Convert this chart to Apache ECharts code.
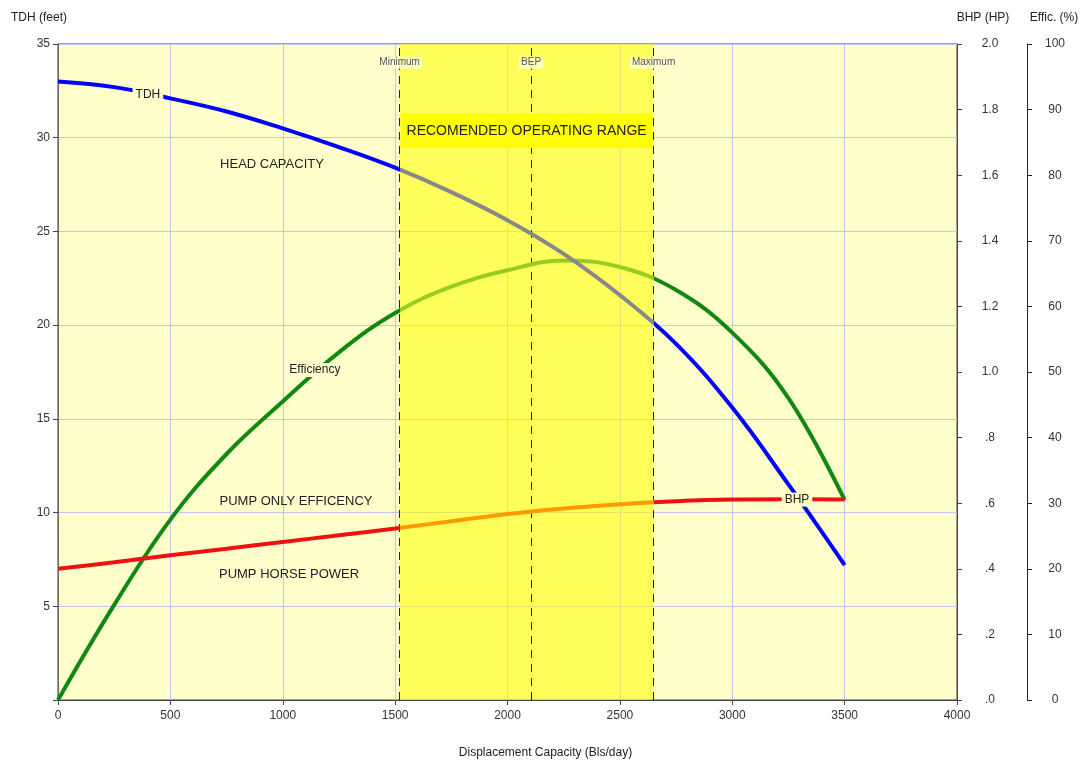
<!DOCTYPE html>
<html>
<head>
<meta charset="utf-8">
<script src="https://cdn.jsdelivr.net/npm/echarts@6/dist/echarts.min.js"></script>
<style>html,body{margin:0;padding:0;background:#fff}#c{width:1080px;height:763px}</style>
</head>
<body>
<div id="c"></div>
<script>
// ---- data ----
const flow = [0, 250, 500, 750, 1000, 1250, 1500, 1750, 2000, 2250, 2500, 2750, 3000, 3250, 3500];
const tdh  = [33.0, 32.7, 32.1, 31.4, 30.5, 29.5, 28.4, 27.1, 25.6, 23.8, 21.6, 19.0, 15.6, 11.5, 7.2];
const bhp  = [0.400, 0.420, 0.441, 0.461, 0.482, 0.502, 0.523, 0.545, 0.567, 0.584, 0.597, 0.606, 0.611, 0.612, 0.611];
const eff  = [0, 14.5, 27.5, 37.5, 45.5, 53, 59, 63, 65.5, 67, 66, 62.5, 56, 46, 30.5];
const operatingRange = [1520, 2650];
const markers = [
  { name: 'Minimum', x: 1520 },
  { name: 'BEP', x: 2105 },
  { name: 'Maximum', x: 2650 }
];
const rangeTitle = 'RECOMENDED OPERATING RANGE';
const xTicks = { min: 0, max: 4000, interval: 500 };
const tdhTicks = { min: 0, max: 35, interval: 5 };
const bhpTicks = { min: 0, max: 2, interval: 0.2 };
const effTicks = { min: 0, max: 100, interval: 10 };

const FONT = 'Liberation Sans, Arial, sans-serif';
const BG = '#ffffcc';

function pairs(ys) { return flow.map((x, i) => [x, ys[i]]); }
function vm(idx, outside, inside) {
  return {
    type: 'piecewise', show: false, dimension: 0, seriesIndex: idx,
    pieces: [
      { lt: operatingRange[0], color: outside },
      { gte: operatingRange[0], lte: operatingRange[1], color: inside },
      { gt: operatingRange[1], color: outside }
    ]
  };
}
const lblBox = { show: true, color: '#222', fontSize: 12, fontFamily: FONT, backgroundColor: BG, padding: [1, 3] };
const plainLbl = { show: true, color: '#222', fontSize: 13, fontFamily: FONT };

const chart = echarts.init(document.getElementById('c'));
chart.setOption({
  animation: false,
  textStyle: { fontFamily: FONT },
  grid: { left: 58, right: 123, top: 44, bottom: 63, show: true, backgroundColor: BG, borderColor: '#444', borderWidth: 1,
          containLabel: false, outerBoundsMode: 'none' },
  xAxis: {
    type: 'value', min: xTicks.min, max: xTicks.max, interval: xTicks.interval,
    name: 'Displacement Capacity (Bls/day)', nameLocation: 'middle', nameGap: 47,
    nameTextStyle: { color: '#222', fontSize: 12, padding: [0, 0, 0, 76] },
    axisLine: { lineStyle: { color: '#444' } },
    axisTick: { show: true, length: 5, lineStyle: { color: '#444' } },
    axisLabel: { color: '#333', fontSize: 12, margin: 10, formatter: v => String(v) },
    splitLine: { show: true, lineStyle: { color: '#c4c4ec', width: 1 } }
  },
  yAxis: [
    {
      type: 'value', position: 'left', min: tdhTicks.min, max: tdhTicks.max, interval: tdhTicks.interval,
      name: 'TDH (feet)', nameGap: 20, nameTextStyle: { color: '#222', fontSize: 12, padding: [0, 38, 0, 0] },
      axisLine: { show: true, lineStyle: { color: '#666' } },
      axisTick: { show: true, length: 5, lineStyle: { color: '#444' } },
      axisLabel: { color: '#333', fontSize: 12, margin: 8, formatter: v => v === 0 ? '' : String(v) },
      splitLine: { show: true, lineStyle: { color: '#c4c4ec', width: 1 } }
    },
    {
      type: 'value', position: 'right', min: bhpTicks.min, max: bhpTicks.max, interval: bhpTicks.interval,
      name: 'BHP (HP)', nameGap: 20, nameTextStyle: { color: '#222', fontSize: 12, padding: [0, 0, 0, 52] },
      axisLine: { show: true, lineStyle: { color: '#444' } },
      axisTick: { show: true, length: 5, lineStyle: { color: '#444' } },
      axisLabel: { color: '#333', fontSize: 12, margin: 33, align: 'center',
        formatter: v => v < 0.99 ? '.' + Math.round(v * 10) : v.toFixed(1) },
      splitLine: { show: false }
    },
    {
      type: 'value', position: 'right', offset: 70, min: effTicks.min, max: effTicks.max, interval: effTicks.interval,
      name: 'Effic. (%)', nameGap: 20, nameTextStyle: { color: '#222', fontSize: 12, padding: [0, 0, 0, 54] },
      axisLine: { show: true, lineStyle: { color: '#222' } },
      axisTick: { show: true, length: 5, lineStyle: { color: '#222' } },
      axisLabel: { color: '#333', fontSize: 12, margin: 28, align: 'center' },
      splitLine: { show: false }
    }
  ],
  visualMap: [
    vm(0, '#0000ff', '#888888'),
    vm(1, '#118811', '#99cc22'),
    vm(2, '#ee1111', '#ff9900')
  ],
  series: [
    {
      name: 'TDH', type: 'line', yAxisIndex: 0, data: pairs(tdh), smooth: 0.4, showSymbol: false,
      lineStyle: { width: 4 }, z: 5,
      markArea: {
        silent: true, z: 1,
        data: [
          [{ xAxis: operatingRange[0], itemStyle: { color: 'rgba(255,255,0,0.55)' } }, { xAxis: operatingRange[1] }]
        ]
      },
      markLine: {
        silent: true, symbol: 'none', z: 2,
        lineStyle: { color: '#222', type: [8, 6], width: 1 },
        label: { show: false },
        data: markers.map(m => ({ xAxis: m.x }))
      },
      markPoint: {
        symbol: 'circle', symbolSize: 0, z: 10,
        data: markers.map(m => ({ coord: [m.x, 34], name: m.name,
            label: { show: true, formatter: m.name, color: '#555', fontSize: 10, fontFamily: FONT,
                     backgroundColor: 'rgba(255,255,210,0.85)', padding: [1, 2] } }))
          .concat([
            { coord: [400, 32.3], label: Object.assign({}, lblBox, { formatter: 'TDH' }) },
            { coord: [952, 28.55], label: Object.assign({}, plainLbl, { formatter: 'HEAD CAPACITY' }) },
            { coord: [1059, 10.62], label: Object.assign({}, plainLbl, { formatter: 'PUMP ONLY EFFICENCY' }) },
            { coord: [1028, 6.72], label: Object.assign({}, plainLbl, { formatter: 'PUMP HORSE POWER' }) }
          ])
      }
    },
    {
      name: 'Efficiency', type: 'line', yAxisIndex: 2, data: pairs(eff), smooth: 0.4, showSymbol: false,
      lineStyle: { width: 4 }, z: 4,
      markPoint: {
        symbol: 'circle', symbolSize: 0, z: 10,
        data: [{ coord: [1143, 50.3], label: Object.assign({}, lblBox, { formatter: 'Efficiency' }) }]
      }
    },
    {
      name: 'BHP', type: 'line', yAxisIndex: 1, data: pairs(bhp), smooth: 0.4, showSymbol: false,
      lineStyle: { width: 4 }, z: 4,
      markArea: {
        silent: true, z: 3,
        data: [
          [{ coord: [operatingRange[0] + 5, 1.788], itemStyle: { color: '#ffff00' },
             label: { show: true, position: 'inside', color: '#222', fontSize: 14, fontFamily: FONT },
             name: rangeTitle },
           { coord: [operatingRange[1] - 5, 1.683] }]
        ]
      },
      markPoint: {
        symbol: 'circle', symbolSize: 0, z: 10,
        data: [{ coord: [3288, 0.611], label: Object.assign({}, lblBox, { formatter: 'BHP' }) }]
      }
    }
  ]
});
</script>
</body>
</html>
